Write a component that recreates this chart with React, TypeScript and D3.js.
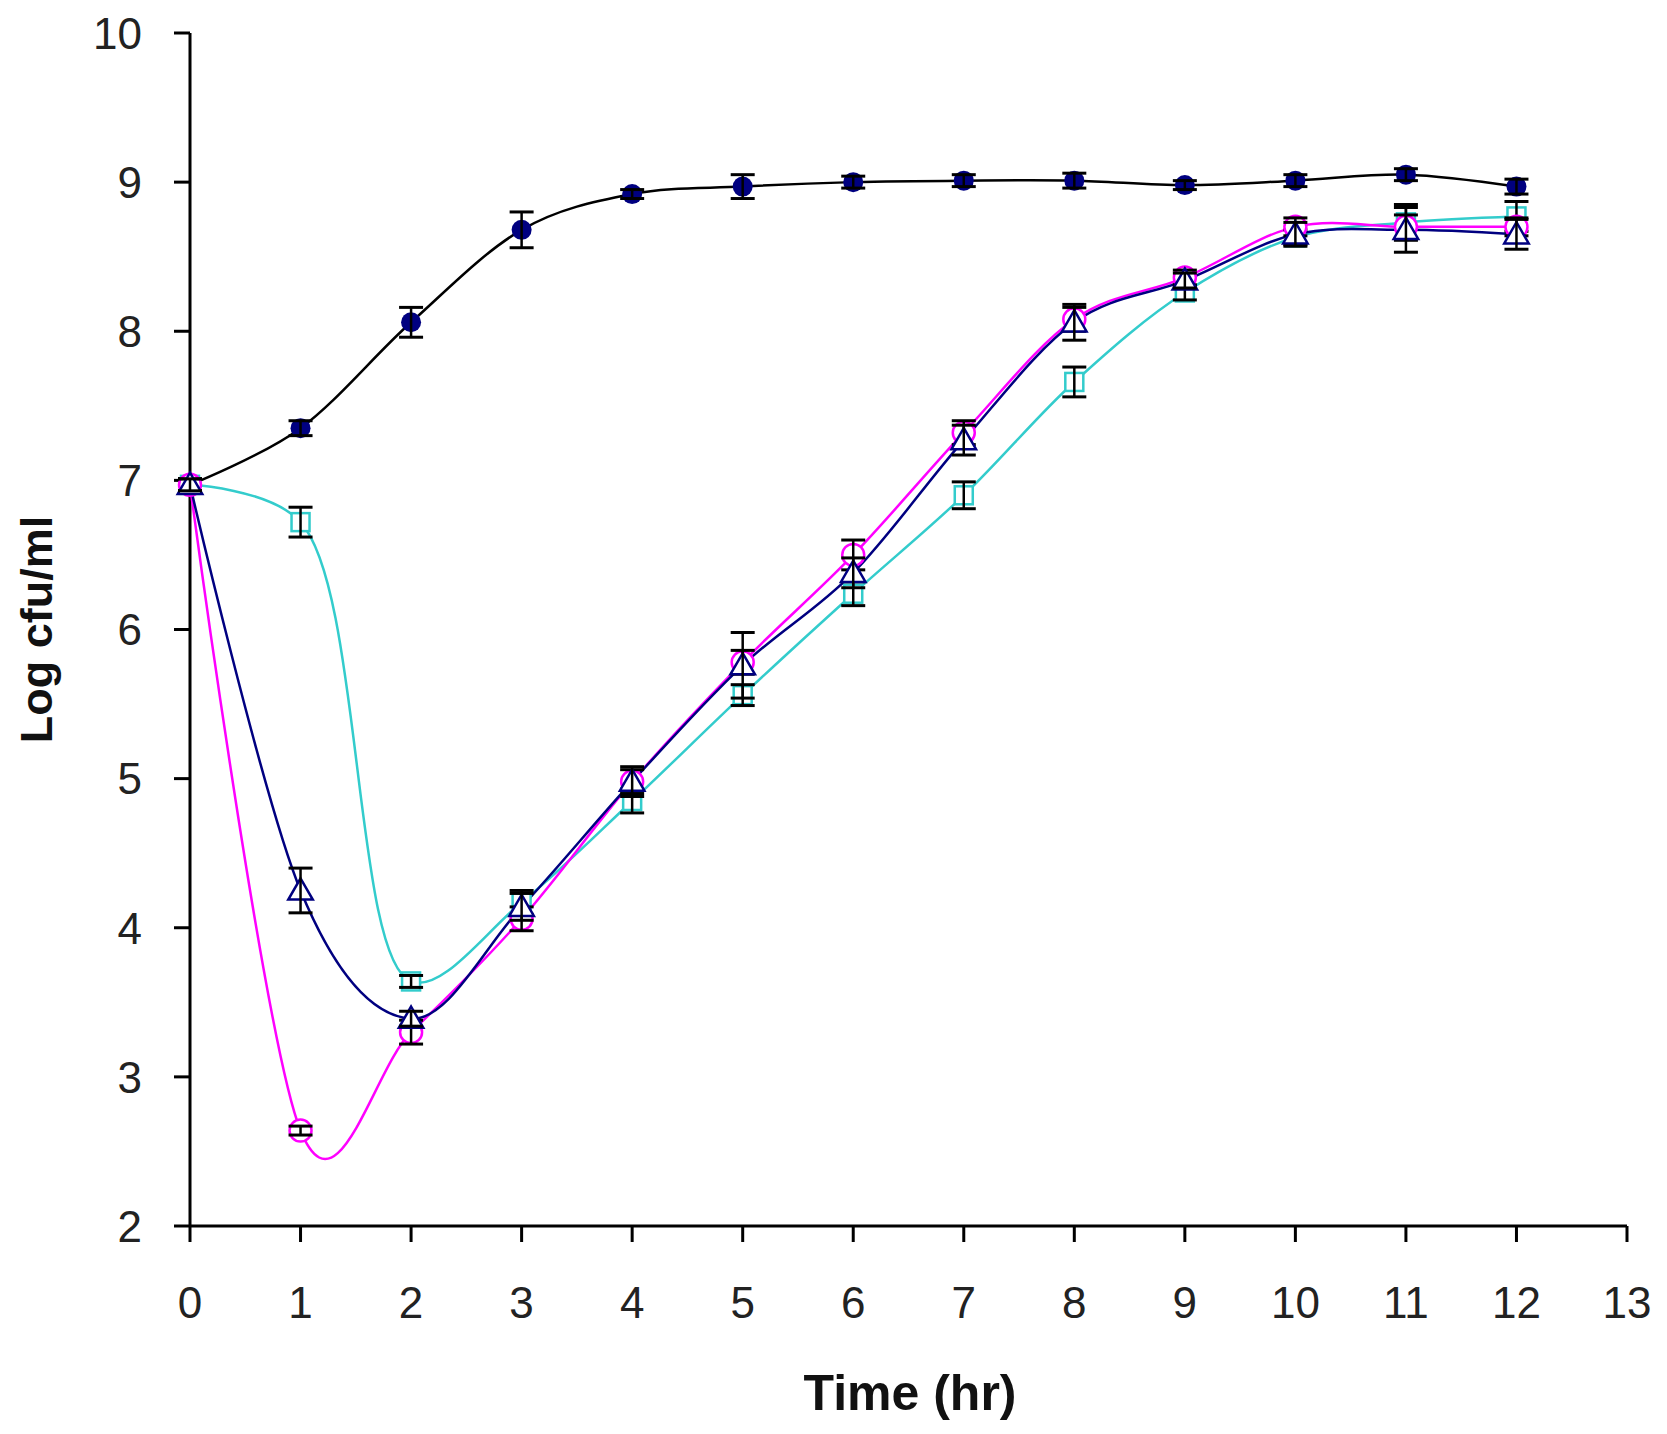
import * as d3 from "d3";

const hours = [0, 1, 2, 3, 4, 5, 6, 7, 8, 9, 10, 11, 12];

// control (filled circles)
const control = [6.97, 7.35, 8.06, 8.68, 8.92, 8.97, 9.0, 9.01, 9.01, 8.98, 9.01, 9.05, 8.97];
const controlErr = [0.04, 0.05, 0.1, 0.12, 0.03, 0.08, 0.04, 0.04, 0.05, 0.03, 0.04, 0.04, 0.05];

// open circles
const circles = [6.97, 2.64, 3.3, 4.06, 4.98, 5.78, 6.5, 7.32, 8.08, 8.36, 8.7, 8.7, 8.7];
const circlesErr = [0.04, 0.03, 0.08, 0.08, 0.08, 0.08, 0.1, 0.08, 0.08, 0.05, 0.06, 0.08, 0.06];

// open triangles
const triangles = [6.97, 4.25, 3.39, 4.14, 4.98, 5.76, 6.38, 7.27, 8.06, 8.34, 8.65, 8.68, 8.65];
const trianglesErr = [0.04, 0.15, 0.05, 0.09, 0.1, 0.22, 0.1, 0.1, 0.12, 0.05, 0.08, 0.15, 0.1];

// open squares
const squares = [6.97, 6.72, 3.64, 4.17, 4.85, 5.56, 6.24, 6.9, 7.66, 8.26, 8.63, 8.73, 8.77];
const squaresErr = [0.04, 0.1, 0.04, 0.08, 0.08, 0.07, 0.08, 0.09, 0.1, 0.05, 0.05, 0.12, 0.1];

const xTicks = d3.range(0, 14);
const yTicks = d3.range(2, 11);

const W = 1667;
const H = 1434;
const left = 190;
const right = 1627;
const top = 33;
const bottom = 1226;

const x = d3.scaleLinear().domain([0, 13]).range([left, right]);
const y = d3.scaleLinear().domain([2, 10]).range([bottom, top]);

const makeLine = (curve: d3.CurveFactory) =>
  d3
    .line<number>()
    .x((_, i) => x(hours[i]))
    .y((d) => y(d))
    .curve(curve);

const font = "'Liberation Sans', Arial, sans-serif";

type Series = {
  name: string;
  values: number[];
  err: number[];
  lineColor: string;
  markColor: string;
  shape: "dot" | "circle" | "triangle" | "square";
  curve: d3.CurveFactory;
};

const series: Series[] = [
  { name: "control", values: control, err: controlErr, lineColor: "#000000", markColor: "#000080", shape: "dot", curve: d3.curveCardinal.tension(0) },
  { name: "squares", values: squares, err: squaresErr, lineColor: "#33cccc", markColor: "#33cccc", shape: "square", curve: d3.curveCatmullRom.alpha(0.5) },
  { name: "circles", values: circles, err: circlesErr, lineColor: "#ff00ff", markColor: "#ff00ff", shape: "circle", curve: d3.curveCardinal.tension(0) },
  { name: "triangles", values: triangles, err: trianglesErr, lineColor: "#000080", markColor: "#000080", shape: "triangle", curve: d3.curveCardinal.tension(0) },
];

function Marker({ s, cx, cy }: { s: Series; cx: number; cy: number }) {
  if (s.shape === "dot") return <circle cx={cx} cy={cy} r={10} fill={s.markColor} />;
  if (s.shape === "circle")
    return <circle cx={cx} cy={cy} r={11} fill="white" stroke={s.markColor} strokeWidth={2.5} />;
  if (s.shape === "square")
    return <rect x={cx - 9} y={cy - 9} width={18} height={18} fill="white" stroke={s.markColor} strokeWidth={2.5} />;
  const sym = d3.symbol(d3.symbolTriangle, 260)();
  return (
    <path d={sym || ""} transform={`translate(${cx},${cy + 2})`} fill="white" stroke={s.markColor} strokeWidth={2.5} />
  );
}

export default function App() {
  return (
    <svg
      width={W}
      height={H}
      style={{ position: "absolute", left: 0, top: 0, background: "white" }}
      fontFamily={font}
    >
      <rect width={W} height={H} fill="white" />

      {/* axes */}
      <line x1={left} x2={left} y1={top} y2={bottom} stroke="#000" strokeWidth={3} />
      <line x1={left} x2={right} y1={bottom} y2={bottom} stroke="#000" strokeWidth={3} />
      {yTicks.map((t) => (
        <g key={"y" + t}>
          <line x1={left - 16} x2={left} y1={y(t)} y2={y(t)} stroke="#000" strokeWidth={3} />
          <text x={left - 48} y={y(t)} dy="0.36em" textAnchor="end" fontSize={44} fill="#222">
            {t}
          </text>
        </g>
      ))}
      {xTicks.map((t) => (
        <g key={"x" + t}>
          <line x1={x(t)} x2={x(t)} y1={bottom} y2={bottom + 16} stroke="#000" strokeWidth={3} />
          <text x={x(t)} y={bottom + 92} textAnchor="middle" fontSize={44} fill="#222">
            {t}
          </text>
        </g>
      ))}

      {/* lines */}
      {series.map((s) => (
        <path
          key={"l" + s.name}
          d={makeLine(s.curve)(s.values) || ""}
          fill="none"
          stroke={s.lineColor}
          strokeWidth={2.5}
        />
      ))}

      {/* markers and error bars */}
      {series.map((s) =>
        s.values.map((v, i) => {
          const cx = x(hours[i]);
          const cy = y(v);
          const y0 = y(v + s.err[i]);
          const y1 = y(v - s.err[i]);
          return (
            <g key={s.name + i}>
              <Marker s={s} cx={cx} cy={cy} />
              <line x1={cx} x2={cx} y1={y0} y2={y1} stroke="#000" strokeWidth={2.5} />
              <line x1={cx - 12} x2={cx + 12} y1={y0} y2={y0} stroke="#000" strokeWidth={3} />
              <line x1={cx - 12} x2={cx + 12} y1={y1} y2={y1} stroke="#000" strokeWidth={3} />
            </g>
          );
        })
      )}

      {/* axis titles */}
      <text x={910} y={1410} textAnchor="middle" fontSize={50} fontWeight="bold" fill="#111">
        Time (hr)
      </text>
      <text
        transform={`translate(52,${(top + bottom) / 2}) rotate(-90)`}
        textAnchor="middle"
        fontSize={45}
        fontWeight="bold"
        fill="#111"
      >
        Log cfu/ml
      </text>
    </svg>
  );
}
